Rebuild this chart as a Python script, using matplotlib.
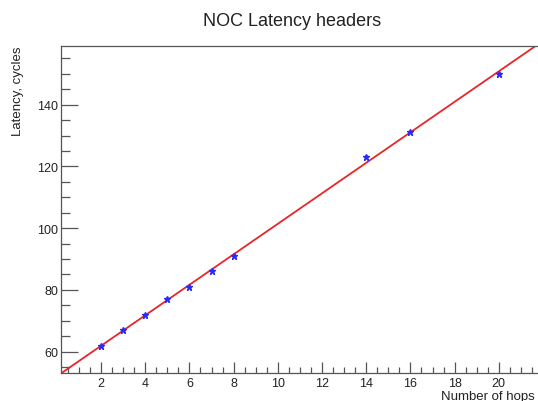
import numpy as np
import matplotlib
matplotlib.use("Agg")
import matplotlib.pyplot as plt
from matplotlib.ticker import MultipleLocator

hops = [2, 3, 4, 5, 6, 7, 8, 14, 16, 20]
latency = [62, 67, 72, 77, 81, 86, 91, 123, 131, 150]

title = "NOC Latency headers"
xlabel = "Number of hops"
ylabel = "Latency, cycles"

plt.rcParams['font.family'] = ['Liberation Sans', 'DejaVu Sans']

W, H = 538, 402
fig = plt.figure(figsize=(W / 100, H / 100), dpi=100)
left_px, right_px, top_px, bottom_px = 61, 540, 47, 374
ax = fig.add_axes([left_px / W, 1 - bottom_px / H,
                   (right_px - left_px) / W, (bottom_px - top_px) / H])

x0_px, ppu_x = 56.8, 22.1
ax.set_xlim((left_px - x0_px) / ppu_x, (right_px - x0_px) / ppu_x)
ax.set_ylim(53.1, 159.0)

# fit line (linear fit to data, as ROOT pol1 fit)
p = np.polyfit(hops, latency, 1)
xl = np.array(ax.get_xlim())
ax.plot(xl, np.polyval(p, xl), color='#e8252a', lw=1.3, zorder=2)

ax.plot(hops, latency, linestyle='none', marker='*', ms=5,
        color='#2a2aff', zorder=3)

ax.xaxis.set_major_locator(MultipleLocator(2))
ax.xaxis.set_minor_locator(MultipleLocator(0.5))
ax.yaxis.set_major_locator(MultipleLocator(20))
ax.yaxis.set_minor_locator(MultipleLocator(5))

axcol = '#555555'
for s in ['left', 'bottom', 'top']:
    ax.spines[s].set_color(axcol)
    ax.spines[s].set_linewidth(0.9)
ax.spines['right'].set_visible(False)

ax.tick_params(axis='x', which='major', direction='in', length=8, width=0.9,
               color=axcol, labelsize=9, pad=3, labelcolor='#222222')
ax.tick_params(axis='x', which='minor', direction='in', length=4.5, width=0.9,
               color=axcol)
ax.tick_params(axis='y', which='major', direction='in', length=12, width=0.9,
               color=axcol, labelsize=9, pad=2, labelcolor='#222222')
ax.tick_params(axis='y', which='minor', direction='in', length=6.5, width=0.9,
               color=axcol)
ax.tick_params(top=False, right=False, which='both')

fig.text(292 / W, 1 - 22 / H, title, ha='center', va='center',
         fontsize=13, color='#222222')
fig.text(441 / W, 1 - 397 / H, xlabel, ha='left', va='center',
         fontsize=9.5, color='#222222')
fig.text(18 / W, 1 - 47 / H, ylabel, ha='center', va='top', rotation=90,
         fontsize=9.5, color='#222222')

fig.savefig("out.png", dpi=100)
